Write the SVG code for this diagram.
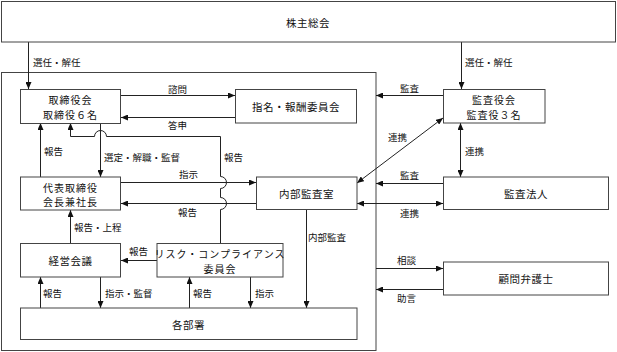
<svg xmlns="http://www.w3.org/2000/svg" width="617" height="352" viewBox="0 0 617 352">
<style>
.box{fill:#fff;stroke:#444;stroke-width:1}
.frame{fill:none;stroke:#444;stroke-width:1}
.ln{fill:none;stroke:#222;stroke-width:1}
.t{font-family:"Noto Sans CJK JP","Noto Sans",sans-serif;font-size:10.5px;letter-spacing:0.5px;fill:#111;text-anchor:middle;dominant-baseline:central}
.t2{font-family:"Noto Sans CJK JP","Noto Sans",sans-serif;font-size:10px;letter-spacing:1px;fill:#111;text-anchor:middle;dominant-baseline:central}
.l{font-family:"Noto Sans CJK JP","Noto Sans",sans-serif;font-size:9.5px;fill:#111;dominant-baseline:central}
</style>
<defs>
<marker id="ah" viewBox="0 0 7 6" refX="7" refY="3" markerWidth="7" markerHeight="6" markerUnits="userSpaceOnUse" orient="auto-start-reverse">
<path d="M0,0 L7,3 L0,6 z" fill="#111"/>
</marker>
</defs>
<rect width="617" height="352" fill="#fff"/>
<rect class="frame" x="1.5" y="72.5" width="374.5" height="278"/>
<g id="connectors">
<path class="ln" d="M28.5,42 V89" marker-end="url(#ah)"/>
<path class="ln" d="M461.5,42 V89" marker-end="url(#ah)"/>
<path class="ln" d="M121,95.5 H235" marker-end="url(#ah)"/>
<path class="ln" d="M235,117.5 H121" marker-end="url(#ah)"/>
<path class="ln" d="M443,95.5 H376" marker-end="url(#ah)"/>
<path class="ln" d="M357,183 L443,118" marker-start="url(#ah)" marker-end="url(#ah)"/>
<path class="ln" d="M460.5,123 V177" marker-start="url(#ah)" marker-end="url(#ah)"/>
<path class="ln" d="M443,183.5 H376" marker-end="url(#ah)"/>
<path class="ln" d="M357,203.5 H443" marker-start="url(#ah)" marker-end="url(#ah)"/>
<path class="ln" d="M121,182.5 H256" marker-end="url(#ah)"/>
<path class="ln" d="M256,203.5 H121" marker-end="url(#ah)"/>
<path class="ln" d="M40.5,177 V123" marker-end="url(#ah)"/>
<path class="ln" d="M100.5,123 V177" marker-end="url(#ah)"/>
<path class="ln" d="M220.5,243 V209.5 A6,6 0 0 0 220.5,197.5 V188.5 A6,6 0 0 0 220.5,176.5 V136.5 H106.5 A6,6 0 0 0 94.5,136.5 H70.5 V123" marker-end="url(#ah)"/>
<path class="ln" d="M70.5,243 V210" marker-end="url(#ah)"/>
<path class="ln" d="M157,260.5 H121" marker-end="url(#ah)"/>
<path class="ln" d="M306.5,209 V308" marker-end="url(#ah)"/>
<path class="ln" d="M40.5,308 V277" marker-end="url(#ah)"/>
<path class="ln" d="M100.5,277 V308" marker-end="url(#ah)"/>
<path class="ln" d="M189.5,308 V277" marker-end="url(#ah)"/>
<path class="ln" d="M250.5,277 V308" marker-end="url(#ah)"/>
<path class="ln" d="M376,268.5 H443" marker-end="url(#ah)"/>
<path class="ln" d="M443,289.5 H376" marker-end="url(#ah)"/>
<text class="l" x="33" y="62">選任・解任</text>
<text class="l" x="465" y="62">選任・解任</text>
<text class="l" x="168" y="89">諮問</text>
<text class="l" x="168" y="125">答申</text>
<text class="l" x="44" y="151">報告</text>
<text class="l" x="104" y="157">選定・解職・監督</text>
<text class="l" x="224" y="157">報告</text>
<text class="l" x="179" y="174">指示</text>
<text class="l" x="178" y="212">報告</text>
<text class="l" x="74" y="227">報告・上程</text>
<text class="l" x="129" y="251">報告</text>
<text class="l" x="308" y="237">内部監査</text>
<text class="l" x="43" y="293">報告</text>
<text class="l" x="105" y="293">指示・監督</text>
<text class="l" x="193" y="293">報告</text>
<text class="l" x="255" y="293">指示</text>
<text class="l" x="400" y="88">監査</text>
<text class="l" x="388" y="137">連携</text>
<text class="l" x="465" y="151">連携</text>
<text class="l" x="400" y="175">監査</text>
<text class="l" x="400" y="213">連携</text>
<text class="l" x="397" y="260">相談</text>
<text class="l" x="397" y="298">助言</text>
</g>
<g id="n-shareholders"><rect class="box" x="1.5" y="1.5" width="614" height="40.5"/><text class="t" x="308" y="22">株主総会</text></g>
<g id="n-board"><rect class="box" x="20.5" y="89.5" width="100" height="34"/><text class="t2"><tspan x="70.5" y="99.3">取締役会</tspan><tspan x="70.5" y="113.8">取締役６名</tspan></text></g>
<g id="n-nomination"><rect class="box" x="235.5" y="89.5" width="121" height="33.5"/><text class="t" x="296" y="106">指名・報酬委員会</text></g>
<g id="n-auditboard"><rect class="box" x="443.5" y="89.5" width="101.5" height="33.5"/><text class="t2"><tspan x="494" y="99">監査役会</tspan><tspan x="494" y="113.5">監査役３名</tspan></text></g>
<g id="n-president"><rect class="box" x="20.5" y="177" width="100" height="33"/><text class="t2"><tspan x="70.5" y="186.5">代表取締役</tspan><tspan x="70.5" y="201">会長兼社長</tspan></text></g>
<g id="n-internalaudit"><rect class="box" x="256.5" y="177" width="100.5" height="32.5"/><text class="t" x="306.5" y="193">内部監査室</text></g>
<g id="n-auditfirm"><rect class="box" x="443.5" y="177" width="165" height="32.5"/><text class="t" x="526" y="193">監査法人</text></g>
<g id="n-management"><rect class="box" x="20.5" y="243.5" width="100" height="33.5"/><text class="t" x="70.5" y="260">経営会議</text></g>
<g id="n-risk"><rect class="box" x="157" y="243.5" width="126" height="33.5"/><text class="t2"><tspan x="220" y="253">リスク・コンプライアンス</tspan><tspan x="220" y="267.5">委員会</tspan></text></g>
<g id="n-departments"><rect class="box" x="20.5" y="308" width="336.5" height="31.5"/><text class="t" x="188.5" y="324">各部署</text></g>
<g id="n-lawyer"><rect class="box" x="443.5" y="262" width="165" height="33"/><text class="t" x="526" y="278.5">顧問弁護士</text></g>
</svg>
